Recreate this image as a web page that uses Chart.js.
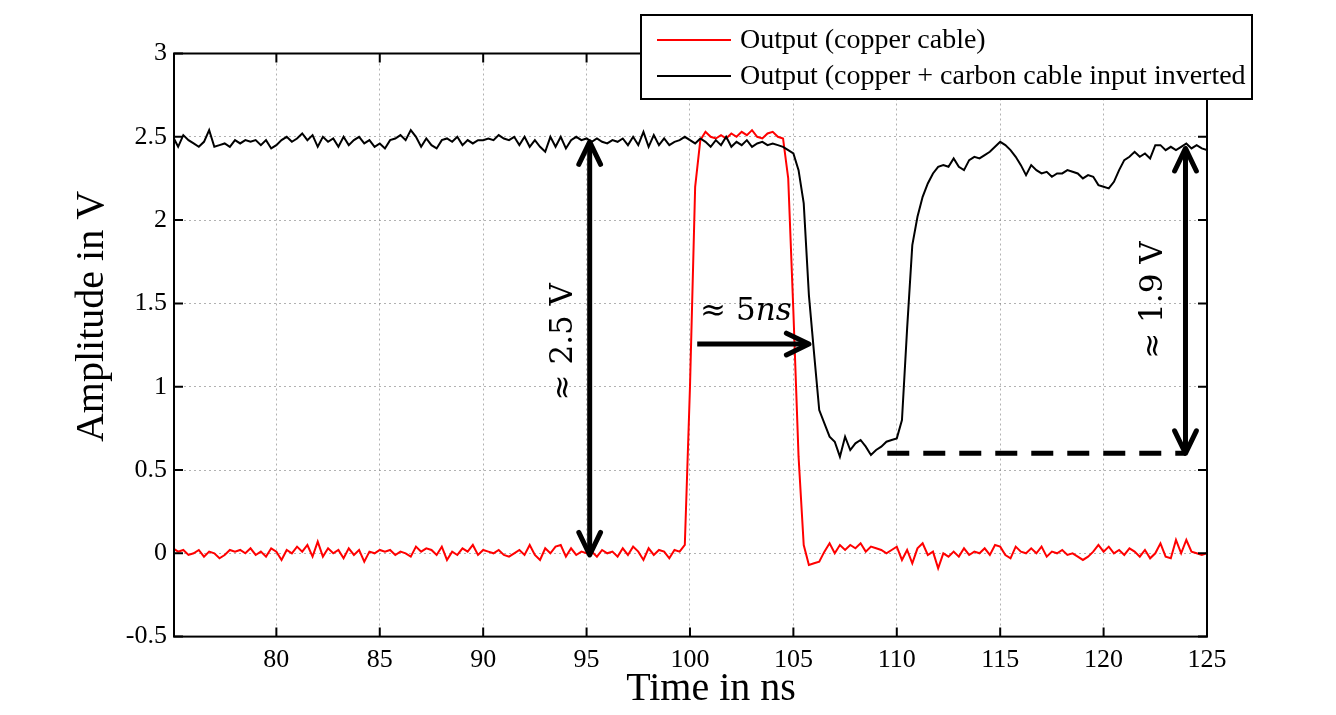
<!DOCTYPE html>
<html>
<head>
<meta charset="utf-8">
<script src="https://cdn.jsdelivr.net/npm/chart.js@4.4.0/dist/chart.umd.min.js"></script>
<style>
html,body{margin:0;padding:0;background:#fff;}
#wrap{width:1336px;height:715px;}
</style>
</head>
<body>
<div id="wrap"><canvas id="c" width="1336" height="715"></canvas></div>
<script>
// ---------- data ----------
const seriesNames = ['Output (copper cable)', 'Output (copper + carbon cable input inverted'];
const seriesColors = ['#ff0000', '#000000'];
const timeStart = 75.0;   // ns, first sample
const timeStep = 0.25;    // ns, sample spacing

const copperValues = [
  0.03,0.01,0.02,-0.01,   0.00,0.02,-0.02,0.01,   0.00,-0.03,-0.01,0.02,   0.01,0.02,0.00,0.03,
  -0.01,0.01,-0.02,0.03,  0.01,-0.04,0.02,0.00,   0.04,0.01,0.05,-0.02,    0.07,-0.02,0.03,0.00,
  0.02,-0.03,0.03,-0.01,  0.02,-0.05,0.01,0.00,   0.02,0.01,0.02,-0.01,    0.01,0.00,-0.02,0.04,
  0.01,0.03,0.02,-0.01,   0.04,-0.04,0.01,-0.01,  0.03,0.01,0.05,-0.01,    0.02,0.01,0.00,0.02,
  -0.01,-0.02,0.00,0.02,  -0.01,0.05,-0.01,-0.04, 0.03,0.00,0.04,0.05,     -0.02,0.03,-0.01,0.01,
  0.00,0.01,-0.02,0.02,   0.00,0.01,-0.02,0.03,   -0.01,0.04,0.01,-0.04,   0.03,-0.01,0.02,0.01,
  -0.03,0.02,0.01,0.05,
  1.00,2.20,2.48,2.53,    2.50,2.49,2.51,2.49,    2.52,2.50,2.53,2.51,     2.54,2.50,2.49,2.52,
  2.53,2.50,2.49,2.25,    1.45,0.58,0.05,-0.07,   -0.06,-0.05,0.01,0.06,   0.00,0.05,0.02,0.05,
  0.03,0.06,0.01,0.04,    0.03,0.02,0.00,0.02,    0.04,-0.04,0.02,-0.06,   0.03,0.06,-0.01,0.01,
  -0.09,0.00,-0.02,0.01,  -0.02,0.03,-0.01,0.01,  0.00,0.03,-0.01,0.05,    0.04,-0.01,-0.03,0.04,
  0.01,0.00,0.03,0.00,    0.04,-0.02,0.01,0.00,   0.02,-0.01,0.00,-0.02,   -0.04,-0.02,0.01,0.05,
  0.01,0.04,0.00,0.02,    -0.01,0.03,0.01,-0.02,  0.02,-0.03,0.00,0.06,    -0.02,-0.03,0.08,0.00,
  0.08,0.01,0.00,-0.01,
  0.00
];

const carbonValues = [
  2.50,2.44,2.51,2.48,  2.46,2.44,2.47,2.54,  2.44,2.45,2.46,2.44,  2.48,2.46,2.48,2.47,
  2.48,2.45,2.48,2.43,  2.45,2.48,2.50,2.47,  2.49,2.52,2.48,2.51,  2.44,2.50,2.47,2.49,
  2.44,2.50,2.45,2.48,  2.50,2.46,2.48,2.44,  2.46,2.43,2.48,2.49,  2.51,2.48,2.54,2.50,
  2.44,2.49,2.45,2.43,  2.48,2.49,2.47,2.50,  2.45,2.48,2.46,2.48,  2.48,2.49,2.48,2.51,
  2.49,2.48,2.50,2.45,  2.50,2.44,2.48,2.44,  2.41,2.50,2.44,2.50,  2.43,2.48,2.50,2.48,
  2.49,2.47,2.49,2.47,  2.46,2.48,2.47,2.49,  2.45,2.50,2.45,2.53,  2.44,2.51,2.45,2.49,
  2.45,2.47,2.48,2.50,
  2.48,2.46,2.49,2.47,  2.44,2.48,2.45,2.50,  2.44,2.47,2.45,2.48,  2.44,2.46,2.47,2.45,
  2.46,2.45,2.44,2.42,  2.40,2.30,2.10,1.55,  1.20,0.86,0.78,0.70,  0.67,0.58,0.70,0.62,
  0.66,0.68,0.64,0.59,  0.62,0.64,0.67,0.68,  0.69,0.80,1.35,1.85,  2.02,2.14,2.22,2.28,
  2.32,2.33,2.32,2.37,  2.32,2.30,2.36,2.38,  2.37,2.39,2.41,2.44,  2.47,2.45,2.42,2.38,
  2.33,2.27,2.33,2.30,  2.28,2.29,2.26,2.28,  2.28,2.30,2.29,2.28,  2.25,2.27,2.26,2.21,
  2.20,2.19,2.23,2.30,  2.36,2.38,2.41,2.38,  2.40,2.37,2.45,2.45,  2.42,2.44,2.42,2.44,
  2.46,2.43,2.45,2.43,
  2.42
];

const xTickValues = [80, 85, 90, 95, 100, 105, 110, 115, 120, 125];
const yTickValues = [-0.5, 0, 0.5, 1, 1.5, 2, 2.5, 3];
const xRange = [75.05, 125];
const yRange = [-0.5, 3];
const xTitle = 'Time in ns';
const yTitle = 'Amplitude in V';

// annotations, in data units
const vArrow1 = { x: 95.15, y1: 2.47, y2: -0.01, label: '\u2248 2.5 V', lx: 93.9, ly: 1.27 };
const hArrow = { y: 1.256, x1: 100.35, x2: 105.75, label: '\u2248 5', labelItalic: 'ns', lx: 102.7, ly: 1.45 };
const vArrow2 = { x: 123.96, y1: 2.43, y2: 0.60, label: '\u2248 1.9 V', lx: 122.45, ly: 1.52 };
const dashLine = { y: 0.60, x1: 109.54, x2: 123.96 };

function toPoints(vals) {
  return vals.map((v, i) => ({ x: +(timeStart + i * timeStep).toFixed(2), y: v }));
}

const SERIF = "'Liberation Serif', 'Times New Roman', serif";
const MATH = "'DejaVu Serif', serif";

function chevron(ctx, tx, ty, ang) {
  const L = 25, a = 0.45;
  ctx.beginPath();
  ctx.moveTo(tx - L * Math.cos(ang - a), ty - L * Math.sin(ang - a));
  ctx.lineTo(tx, ty);
  ctx.lineTo(tx - L * Math.cos(ang + a), ty - L * Math.sin(ang + a));
  ctx.stroke();
}

const overlay = {
  id: 'overlay',
  afterDatasetsDraw(chart) {
    const { ctx, chartArea: ca, scales: { x, y } } = chart;
    ctx.save();
    ctx.strokeStyle = '#000';
    ctx.fillStyle = '#000';
    ctx.lineCap = 'round';
    ctx.lineJoin = 'round';
    ctx.lineWidth = 5;

    // vertical double arrows
    [vArrow1, vArrow2].forEach(a => {
      const px = x.getPixelForValue(a.x);
      const p1 = y.getPixelForValue(a.y1), p2 = y.getPixelForValue(a.y2);
      ctx.beginPath(); ctx.moveTo(px, p1 + 2); ctx.lineTo(px, p2 - 2); ctx.stroke();
      chevron(ctx, px, p1, -Math.PI / 2);
      chevron(ctx, px, p2, Math.PI / 2);
    });

    // horizontal arrow
    {
      const py = y.getPixelForValue(hArrow.y);
      const a1 = x.getPixelForValue(hArrow.x1), a2 = x.getPixelForValue(hArrow.x2);
      ctx.lineCap = 'butt';
      ctx.beginPath(); ctx.moveTo(a1, py); ctx.lineTo(a2 - 3, py); ctx.stroke();
      ctx.lineCap = 'round';
      chevron(ctx, a2, py, 0);
    }

    // dashed level line
    {
      const py = y.getPixelForValue(dashLine.y);
      ctx.lineCap = 'butt';
      ctx.setLineDash([22, 14]);
      ctx.beginPath();
      ctx.moveTo(x.getPixelForValue(dashLine.x1), py);
      ctx.lineTo(x.getPixelForValue(dashLine.x2), py);
      ctx.stroke();
      ctx.setLineDash([]);
    }

    // rotated labels
    ctx.textAlign = 'center';
    ctx.textBaseline = 'middle';
    ctx.font = '31px ' + MATH;
    [vArrow1, vArrow2].forEach(a => {
      ctx.save();
      ctx.translate(x.getPixelForValue(a.lx), y.getPixelForValue(a.ly));
      ctx.rotate(-Math.PI / 2);
      ctx.fillText(a.label, 0, 0);
      ctx.restore();
    });

    // ≈ 5ns label
    {
      const cx = x.getPixelForValue(hArrow.lx), cy = y.getPixelForValue(hArrow.ly);
      ctx.textAlign = 'left';
      ctx.font = '31px ' + MATH;
      const w1 = ctx.measureText(hArrow.label).width;
      ctx.font = 'italic 31px ' + MATH;
      const w2 = ctx.measureText(hArrow.labelItalic).width;
      const sx = cx - (w1 + w2) / 2;
      ctx.font = '31px ' + MATH;
      ctx.fillText(hArrow.label, sx, cy);
      ctx.font = 'italic 31px ' + MATH;
      ctx.fillText(hArrow.labelItalic, sx + w1, cy);
    }

    // axes box with inward ticks
    ctx.lineCap = 'butt';
    ctx.lineJoin = 'miter';
    ctx.lineWidth = 2;
    ctx.strokeRect(ca.left, ca.top, ca.right - ca.left, ca.bottom - ca.top);
    const T = 9;
    ctx.beginPath();
    xTickValues.forEach(v => {
      const px = x.getPixelForValue(v);
      ctx.moveTo(px, ca.bottom); ctx.lineTo(px, ca.bottom - T);
      ctx.moveTo(px, ca.top); ctx.lineTo(px, ca.top + T);
    });
    yTickValues.forEach(v => {
      const py = y.getPixelForValue(v);
      ctx.moveTo(ca.left, py); ctx.lineTo(ca.left + T, py);
      ctx.moveTo(ca.right, py); ctx.lineTo(ca.right - T, py);
    });
    ctx.stroke();
    ctx.restore();
  },
  afterDraw(chart) {
    const { ctx } = chart;
    ctx.save();
    // axis titles
    ctx.fillStyle = '#000';
    ctx.font = '40px ' + SERIF;
    ctx.textAlign = 'center';
    ctx.textBaseline = 'alphabetic';
    ctx.fillText(xTitle, 711, 700);
    ctx.save();
    ctx.translate(103, 316.5);
    ctx.rotate(-Math.PI / 2);
    ctx.fillText(yTitle, 0, 0);
    ctx.restore();

    // legend
    const bx = 641, by = 15, bw = 611, bh = 84;
    ctx.fillStyle = '#fff';
    ctx.fillRect(bx, by, bw, bh);
    ctx.strokeStyle = '#000';
    ctx.lineWidth = 2;
    ctx.strokeRect(bx, by, bw, bh);
    const rows = [40, 76];
    ctx.font = '28px ' + SERIF;
    ctx.textAlign = 'left';
    ctx.textBaseline = 'middle';
    seriesNames.forEach((name, i) => {
      ctx.strokeStyle = seriesColors[i];
      ctx.lineWidth = 2;
      ctx.beginPath(); ctx.moveTo(657, rows[i]); ctx.lineTo(731, rows[i]); ctx.stroke();
      ctx.fillStyle = '#000';
      ctx.fillText(name, 740, rows[i] + 1);
    });
    ctx.restore();
  }
};

const gridStyle = { color: 'rgba(0,0,0,0.3)', lineWidth: 1, drawTicks: false };

new Chart(document.getElementById('c'), {
  type: 'line',
  data: {
    datasets: [
      { label: seriesNames[0], data: toPoints(copperValues), borderColor: seriesColors[0], borderWidth: 2, pointRadius: 0, order: 1 },
      { label: seriesNames[1], data: toPoints(carbonValues), borderColor: seriesColors[1], borderWidth: 2, pointRadius: 0, order: 0 }
    ]
  },
  options: {
    responsive: false,
    animation: false,
    devicePixelRatio: 1,
    events: [],
    layout: { padding: { top: 53.5, right: 129, left: 0, bottom: 0 } },
    plugins: { legend: { display: false }, tooltip: { enabled: false } },
    elements: { line: { tension: 0 }, point: { radius: 0 } },
    scales: {
      x: {
        type: 'linear', min: xRange[0], max: xRange[1],
        afterFit(s) { s.height = 78.4; },
        afterBuildTicks(s) { s.ticks = xTickValues.map(v => ({ value: v })); },
        grid: gridStyle,
        border: { display: false, dash: [2, 3] },
        ticks: { font: { family: SERIF, size: 26 }, color: '#000', padding: 8, maxRotation: 0, autoSkip: false, callback: v => String(v) },
        title: { display: false, text: xTitle }
      },
      y: {
        type: 'linear', min: yRange[0], max: yRange[1],
        afterFit(s) { s.width = 174; },
        afterBuildTicks(s) { s.ticks = yTickValues.map(v => ({ value: v })); },
        grid: gridStyle,
        border: { display: false, dash: [2, 3] },
        ticks: { font: { family: SERIF, size: 26 }, color: '#000', padding: 7, autoSkip: false, callback: v => String(v) },
        title: { display: false, text: yTitle }
      }
    }
  },
  plugins: [overlay]
});
</script>
</body>
</html>
